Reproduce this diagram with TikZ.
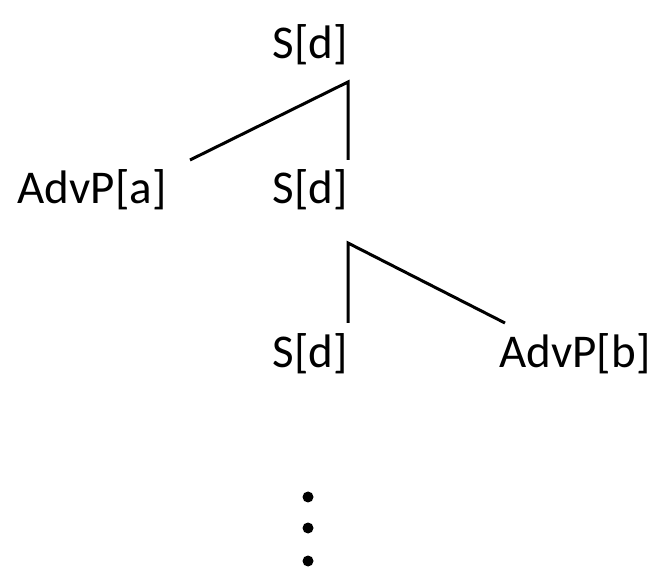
\documentclass[tikz,border=0pt]{standalone}
\usepackage{fontspec}
\setmainfont{Carlito}
\begin{document}
\begin{tikzpicture}[x=1pt,y=-1pt,
  lbl/.style={anchor=base,inner sep=0pt,font=\fontsize{47}{56}\selectfont},
  branch/.style={line width=3pt},
  dot/.style={circle,fill=black,inner sep=0pt,minimum size=11pt}]
\useasboundingbox (0,0) rectangle (654,577);
% labels
\node[lbl] (top) at (310,59) {S[d]};
\node[lbl] (advA) at (92,204) {AdvP[a]};
\node[lbl] (mid) at (310,204) {S[d]};
\node[lbl] (low) at (310,368) {S[d]};
\node[lbl] (advB) at (575,368) {AdvP[b]};
% branch ends
\coordinate (v1) at (348,82);
\coordinate (a1) at (190,160);
\coordinate (m1) at (348,160);
\coordinate (v2) at (348,243);
\coordinate (l2) at (348,323);
\coordinate (b2) at (505,323);
\draw[branch] (a1) -- (v1) -- (m1);
\draw[branch] (l2) -- (v2) -- (b2);
% ellipsis dots
\node[dot] (d1) at (308,497) {};
\node[dot] (d2) at (308,528) {};
\node[dot] (d3) at (308,561) {};
\end{tikzpicture}
\end{document}
